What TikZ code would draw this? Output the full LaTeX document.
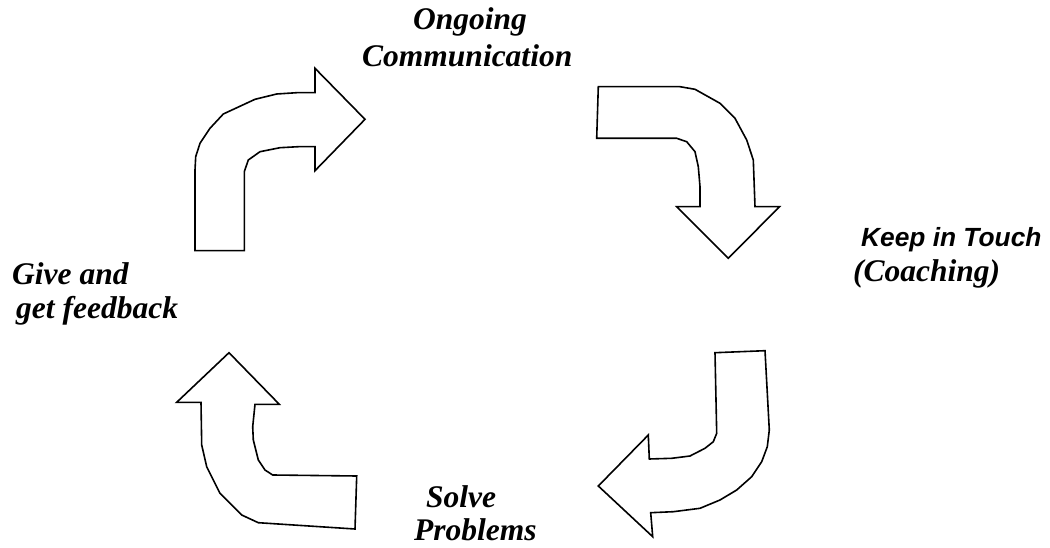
\documentclass[tikz,border=0pt]{standalone}
\usepackage{fontspec}
\setmainfont{Liberation Serif}
\newfontfamily\arialfont{Liberation Sans}
\begin{document}
\begin{tikzpicture}[x=1pt,y=-1pt,
  bentarrow/.style={draw=black,line width=1.6pt,line join=miter,fill=white},
  lbl/.style={anchor=base west,inner sep=0pt,font=\fontsize{31.5}{36}\selectfont\bfseries\itshape},
  lblsans/.style={anchor=base west,inner sep=0pt,font=\fontsize{26.3}{30}\selectfont\arialfont\bfseries\itshape}]
\useasboundingbox (0,0) rectangle (1050,548);
% top-left arrow (up, then right)
\draw[bentarrow] (195,250.7) -- (244.3,250.7) -- (244.3,171.7) -- (248.3,160) -- (260,151.7) -- (280,147.7) -- (298.3,146.7) -- (315,146.7)
  -- (315,170.7) -- (365,119.3) -- (315,68.3) -- (315,92.7) -- (296.7,92.7) -- (276.7,94) -- (255,99.3) -- (223.3,114) -- (210,128.3)
  -- (200,143.3) -- (195.7,156.7) -- (195,170) -- cycle;
% top-right arrow (right, then down)
\draw[bentarrow] (598.3,86.7) -- (596.7,138.3) -- (676.7,138.3) -- (686.7,141.7) -- (695,151.7) -- (698.3,166.7) -- (700,186.7) -- (700,206.7)
  -- (676.7,206.7) -- (728.3,258.3) -- (779.5,206.7) -- (755,206.7) -- (753.3,160) -- (746.7,140) -- (735,118.3) -- (720,103.3)
  -- (695,89.3) -- (680,86.7) -- cycle;
% bottom-right arrow (down, then left)
\draw[bentarrow] (715,352.7) -- (765,350.7) -- (769.3,430) -- (767.3,446.7) -- (761.7,461.7) -- (751.7,476.7) -- (736.7,490) -- (720,500)
  -- (700,508.3) -- (673.3,511.7) -- (650.7,512.7) -- (652.7,536.7) -- (598.3,486) -- (648.3,435) -- (649.3,459) -- (671.7,458.3)
  -- (690,456) -- (705,448.3) -- (713.3,441.7) -- (716.7,433.3) -- cycle;
% bottom-left arrow (left, then up)
\draw[bentarrow] (229,352.7) -- (176.7,402.3) -- (201,402.3) -- (201.7,445) -- (206.7,466.7) -- (220,493.3) -- (241.7,515) -- (258.3,522.7)
  -- (355,529) -- (356.7,476) -- (272.7,475) -- (265,470) -- (258.3,460) -- (253.3,440) -- (252.7,426.7) -- (255,404.3)
  -- (279.3,404.3) -- cycle;
% labels
\node[lbl] (ongA) at (413,30) {Ongoing};
\node[lbl] (ongB) at (362,67) {Communication};
\node[lblsans] (keep) at (861,247) {Keep in Touch};
\node[lbl] (coach) at (853,282) {(Coaching)};
\node[lbl] (giveA) at (12,285) {Give and};
\node[lbl] (giveB) at (16,318) {get feedback};
\node[lbl] (solveA) at (426,507) {Solve};
\node[lbl] (solveB) at (414,540) {Problems};
\end{tikzpicture}
\end{document}
